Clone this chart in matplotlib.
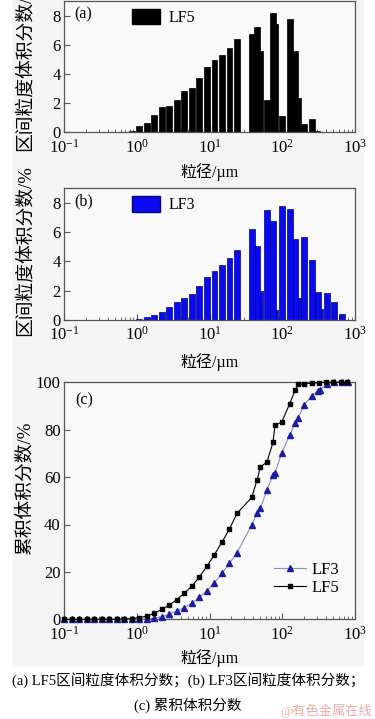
import numpy as np
import matplotlib
matplotlib.use('Agg')
import matplotlib.pyplot as plt
import matplotlib.ticker as mticker
from matplotlib.patches import Rectangle, Patch

plt.rcParams['font.family'] = ['Liberation Serif', 'Noto Sans CJK SC']
plt.rcParams['mathtext.fontset'] = 'custom'
plt.rcParams['mathtext.rm'] = 'Liberation Serif'

# interval volume fraction, LF5 (panel a)
size_lf5 = [0.852, 1.08, 1.37, 1.74, 2.21, 2.80, 3.55, 4.51, 5.72, 7.25, 9.20, 11.7, 14.8, 18.8, 23.9,
            38.0, 45.0, 49.9, 61.7, 74.6, 79.5, 98.2, 126.6, 151, 163, 201, 256, 303]
frac_lf5 = [0.1, 0.4, 0.65, 1.2, 1.75, 1.8, 2.2, 2.85, 3.05, 3.75, 4.5, 4.95, 5.3, 5.8, 6.4,
            6.75, 7.2, 5.6, 2.2, 8.2, 7.45, 1.15, 7.75, 5.6, 2.35, 0.6, 0.9, 0.1]

# interval volume fraction, LF3 (panel b)
size_lf3 = [1.08, 1.37, 1.74, 2.21, 2.80, 3.55, 4.51, 5.72, 7.25, 9.20, 11.7, 14.8, 18.8, 23.9,
            38.0, 45.0, 49.9, 61.7, 74.6, 79.5, 98.2, 126.6, 151, 163, 201, 255, 307, 333, 408, 514, 656]
frac_lf3 = [0.05, 0.18, 0.34, 0.55, 0.86, 1.25, 1.52, 1.77, 2.32, 2.96, 3.35, 3.76, 4.24, 4.75,
            6.2, 5.07, 2.0, 7.54, 6.74, 0.7, 7.77, 7.6, 5.55, 1.5, 5.67, 4.1, 1.94, 0.75, 1.87, 1.21, 0.39]

# cumulative volume fraction (panel c)
cum_size_lf5 = [0.100, 0.127, 0.161, 0.204, 0.259, 0.329, 0.417, 0.529, 0.672, 0.852, 1.08, 1.37, 1.74,
                2.21, 2.80, 3.55, 4.51, 5.72, 7.25, 9.20, 11.7, 14.8, 18.8, 23.9, 38.0, 45.0, 49.9, 61.7,
                74.6, 79.5, 98.2, 126.6, 151, 163, 201, 256, 320, 398, 504, 633, 776]
cum_lf5 = [0, 0, 0, 0, 0, 0, 0, 0, 0.1, 0.3, 0.7, 1.3, 2.5,
           4.2, 6.0, 8.3, 11.0, 14.0, 17.8, 22.3, 27.3, 32.5, 38.1, 44.7, 51.4, 58.7, 64.2, 66.4,
           74.6, 82.0, 83.1, 91.0, 96.7, 99.1, 99.3, 99.6, 99.9, 100, 100, 100, 100]
cum_size_lf3 = [0.100, 0.127, 0.161, 0.204, 0.259, 0.329, 0.417, 0.529, 0.672, 0.852, 1.08, 1.37, 1.74,
                2.21, 2.80, 3.55, 4.51, 5.72, 7.25, 9.20, 11.7, 14.8, 18.8, 23.9, 38.0, 45.0, 49.9, 61.7,
                74.6, 79.5, 98.2, 126.6, 151, 163, 201, 255, 307, 333, 408, 514, 656, 800]
cum_lf3 = [0, 0, 0, 0, 0, 0, 0, 0, 0, 0, 0, 0.2, 0.45,
           1.1, 2.1, 3.6, 4.9, 6.8, 9.2, 12.0, 15.5, 19.4, 23.6, 28.1, 39.8, 44.7, 46.8, 54.6,
           60.8, 61.8, 70.0, 77.8, 82.7, 84.8, 90.4, 94.4, 96.2, 96.9, 99.3, 100, 100, 100]

W, H = 375, 719
fig = plt.figure(figsize=(W / 100, H / 100), dpi=100)
bg = Rectangle((13 / W, 1 - 665 / H), 350 / W, 665 / H, transform=fig.transFigure,
               color='#f4f4f4', zorder=-10)
fig.add_artist(bg)


def px_axes(l, t, r, b):
    return fig.add_axes([l / W, 1 - b / H, (r - l) / W, (b - t) / H])


def style(ax, ylab, ylab_y, xlab_off):
    ax.set_xscale('log')
    ax.set_xlim(0.1, 1000)
    ax.set_facecolor('#f9f9f9')
    for s in ax.spines.values():
        s.set_color('#555555')
        s.set_linewidth(0.9)
    ax.xaxis.set_minor_locator(mticker.LogLocator(base=10, subs=np.arange(2, 10), numticks=20))
    ax.tick_params(which='both', direction='in', top=False, right=False, labelsize=12, color='#555555')
    ax.tick_params(which='major', length=4, pad=2.5)
    ax.tick_params(axis='x', which='major', pad=4.5)
    ax.tick_params(which='minor', length=2.2)
    ax.set_xlabel('粒径/µm', fontsize=11.5)
    ax.xaxis.label.set_verticalalignment('center')
    ax.xaxis.set_label_coords(0.5, xlab_off)
    ax.set_ylabel(ylab, fontsize=13.5)
    ax.yaxis.label.set_verticalalignment('center')
    ax.yaxis.set_label_coords(-0.134, ylab_y)


def log_bars(ax, size, frac, fc, ec):
    hw = 0.04
    d = np.array(size)[::-1]
    h = np.array(frac)[::-1]
    ax.bar(d * 10 ** (-hw), h, width=d * (10 ** hw - 10 ** (-hw)), align='edge',
           color=fc, edgecolor=ec, linewidth=0.5, zorder=2)


# (a)
ax_a = px_axes(64, 1, 355, 132.3)
log_bars(ax_a, size_lf5, frac_lf5, 'black', 'black')
ax_a.set_ylim(0, 9)
ax_a.set_yticks([0, 2, 4, 6, 8])
style(ax_a, '区间粒度体积分数/%', 0.51, -0.305)
ax_a.text(0.035, 0.9, '(a)', transform=ax_a.transAxes, fontsize=11.5, va='center')
ax_a.legend(handles=[Patch(facecolor='black', edgecolor='black', label='LF5')], loc='upper left',
            bbox_to_anchor=(0.205, 1.0), frameon=False, fontsize=11.5, handlelength=1.8,
            handleheight=1.1, handletextpad=0.5, borderaxespad=0.1)

# (b)
ax_b = px_axes(64, 188.3, 355, 320)
log_bars(ax_b, size_lf3, frac_lf3, '#0a0af0', '#00007a')
ax_b.set_ylim(0, 9)
ax_b.set_yticks([0, 2, 4, 6, 8])
style(ax_b, '区间粒度体积分数/%', 0.53, -0.319)
ax_b.text(0.035, 0.9, '(b)', transform=ax_b.transAxes, fontsize=11.5, va='center')
ax_b.legend(handles=[Patch(facecolor='#0a0af0', edgecolor='#00007a', label='LF3')], loc='upper left',
            bbox_to_anchor=(0.205, 1.0), frameon=False, fontsize=11.5, handlelength=1.8,
            handleheight=1.1, handletextpad=0.5, borderaxespad=0.1)

# (c)
ax_c = px_axes(64, 382.3, 355, 619.3)
ax_c.plot(cum_size_lf3, cum_lf3, '-', color='#8c8cc4', lw=0.8, marker='^', ms=4.2,
          mfc='#1c1ca0', mec='#1c1ca0', label='LF3', zorder=3, clip_on=False)
ax_c.plot(cum_size_lf5, cum_lf5, '-', color='black', lw=0.8, marker='s', ms=3.2,
          mfc='black', mec='black', label='LF5', zorder=4, clip_on=False)
ax_c.set_ylim(0, 100)
ax_c.set_yticks([0, 20, 40, 60, 80, 100])
style(ax_c, '累积体积分数/%', 0.554, -0.165)
ax_c.text(0.04, 0.925, '(c)', transform=ax_c.transAxes, fontsize=11.5, va='center')
ax_c.legend(loc='lower left', bbox_to_anchor=(0.7, 0.07), frameon=False, fontsize=12,
            handlelength=1.9, labelspacing=0.15, handletextpad=0.3, borderaxespad=0)

# caption
fig.text(188 / W, 1 - 680 / H, '(a) LF5区间粒度体积分数；(b) LF3区间粒度体积分数；',
         ha='center', va='center', fontsize=10.5)
fig.text(188 / W, 1 - 705 / H, '(c) 累积体积分数', ha='center', va='center', fontsize=10.5)
fig.text(372 / W, 1 - 711 / H, '@有色金属在线', ha='right', va='center', fontsize=9.5,
         color='#eea8a8')

fig.savefig('out.png', dpi=100)
